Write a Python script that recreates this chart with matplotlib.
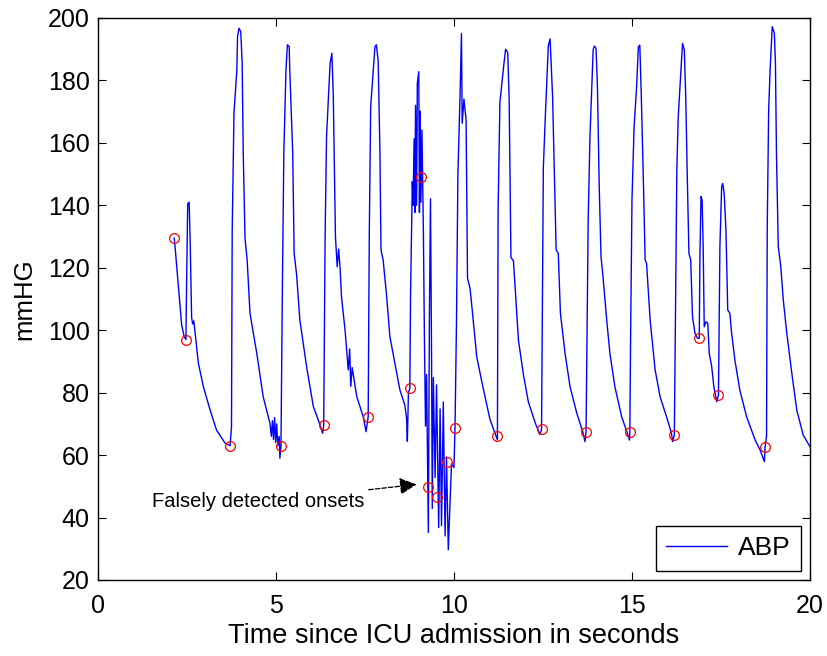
import numpy as np
import matplotlib
matplotlib.use('Agg')
import matplotlib.pyplot as plt

plt.rcParams['font.family'] = ['Liberation Sans', 'DejaVu Sans']

# ABP trace, vertices (seconds, mmHg)
t_abp = [
    2.14, 2.17, 2.26, 2.35, 2.42, 2.47, 2.49, 2.52, 2.56, 2.59, 2.63, 2.66, 2.69, 2.72,
    2.82, 2.96, 3.15, 3.33, 3.57, 3.71,
    3.75, 3.77, 3.82, 3.90, 3.92, 3.96, 4.01, 4.05, 4.08, 4.13, 4.15, 4.19, 4.27, 4.46,
    4.64, 4.83, 4.87, 4.90, 4.93, 4.96, 4.99, 5.02, 5.05, 5.09, 5.11, 5.14,
    5.18, 5.22, 5.28, 5.32, 5.37, 5.39, 5.47, 5.51, 5.58, 5.67, 5.86, 6.05, 6.19, 6.31, 6.34,
    6.38, 6.42, 6.52, 6.57, 6.61, 6.67, 6.72, 6.76, 6.80, 6.84, 6.94, 7.03, 7.07, 7.10,
    7.14, 7.27, 7.45, 7.53, 7.59,
    7.62, 7.66, 7.72, 7.78, 7.82, 7.87, 7.92, 7.95, 8.01, 8.11, 8.20, 8.34, 8.48, 8.62,
    8.67, 8.69, 8.72, 8.76,
    8.78, 8.83, 8.85, 8.88, 8.90, 8.92, 8.95, 8.97, 9.01, 9.03, 9.05, 9.07, 9.10, 9.14,
    9.17, 9.20, 9.23,
    9.28, 9.31, 9.34, 9.37, 9.39, 9.42, 9.47, 9.51, 9.57, 9.61, 9.65, 9.70, 9.75, 9.79,
    9.84, 9.89, 9.93, 10.00, 10.03,
    10.07, 10.11, 10.17, 10.21, 10.23, 10.28, 10.34, 10.38, 10.45, 10.50, 10.64, 10.82,
    11.01, 11.15, 11.22,
    11.24, 11.29, 11.40, 11.45, 11.51, 11.55, 11.60, 11.67, 11.72, 11.81, 11.95, 12.09,
    12.28, 12.41, 12.46,
    12.51, 12.57, 12.65, 12.70, 12.77, 12.84, 12.87, 12.93, 12.99, 13.12, 13.26, 13.45,
    13.63, 13.68, 13.71,
    13.77, 13.82, 13.87, 13.91, 13.94, 13.99, 14.03, 14.08, 14.13, 14.19, 14.29, 14.38,
    14.52, 14.71, 14.87, 14.93, 14.94,
    14.96, 15.00, 15.06, 15.13, 15.18, 15.22, 15.26, 15.32, 15.37, 15.41, 15.51, 15.65,
    15.79, 15.97, 16.11, 16.14, 16.19,
    16.22, 16.26, 16.30, 16.37, 16.42, 16.47, 16.51, 16.55, 16.60, 16.65, 16.70, 16.77,
    16.84, 16.89, 16.91, 16.94, 16.97, 17.00, 17.03, 17.08, 17.13, 17.17, 17.24, 17.30,
    17.38, 17.43, 17.47, 17.52, 17.55, 17.59, 17.64, 17.69, 17.75, 17.80, 17.89, 18.03,
    18.22, 18.46, 18.60, 18.72, 18.74,
    18.78, 18.80, 18.84, 18.88, 18.94, 19.00, 19.03, 19.06, 19.11, 19.18, 19.25, 19.35,
    19.49, 19.63, 19.81, 20.00,
]
abp = [
    129.5, 126, 114, 101.7, 98, 97, 116, 140.5, 141, 128, 104, 102, 103, 100,
    89.4, 81.9, 74.4, 68, 63.8, 63,
    69, 132, 169.5, 183.3, 194, 196.7, 195.6, 185.5, 156.7, 129.4, 127, 122.5, 105.4, 92.6,
    78.7, 70.2, 66, 71, 65, 72, 64, 70, 63, 66, 59, 63,
    114, 156.7, 183.3, 191.4, 190.8, 182.3, 156.7, 124.6, 117.7, 103.3, 88.3, 75.5, 71.2, 67, 69.6,
    130, 162, 185.5, 188.7, 174.8, 130, 120.3, 126, 120, 110.7, 100, 87.3, 94, 82,
    88, 78.7, 72.3, 67.5, 72.3,
    130, 171.6, 181.2, 190.8, 191.4, 186.5, 156.7, 125.7, 122.5, 110.7, 97.9, 89.4, 80.9, 76,
    71.5, 64.4, 80, 81.4,
    111.2, 147.6, 140, 161.3, 137.7, 172, 140, 179, 182.8, 137.7, 170.2, 141, 164.1, 132.1,
    96.9, 69.3, 85.8,
    35.2, 104.6, 142.1, 91.4, 42.9, 84.8, 52.8, 82.5, 36.8, 74.8, 37.4, 77.0, 34.1, 59.4,
    29.7, 45.1, 57.2, 56, 69.3,
    102.4, 149.8, 175.1, 195, 166.3, 174, 167.4, 116.7, 113.4, 107.9, 91.4, 81.4,
    71.5, 67.1, 64.9,
    138.8, 173, 185, 190, 188.9, 174, 123.3, 122.2, 113.4, 96.9, 85.8, 77,
    70.4, 66.6, 68.2,
    152, 169.6, 191.1, 193.3, 174.8, 139.6, 125.7, 124.6, 105.4, 92.6, 81.9, 73.4,
    67, 64.3, 67.5,
    135.3, 162, 177, 189.8, 191, 190.3, 178, 146, 123.6, 116.6, 103.3, 92.6,
    81.9, 72.3, 67, 64.8, 67.5,
    95.8, 141.7, 165.2, 178, 190.8, 191.3, 175.9, 148.1, 122.5, 121.4, 103.3, 87.3,
    78.7, 72.3, 67, 64.3, 66.4,
    103.3, 151.3, 168.4, 182.3, 191.9, 189.8, 174.8, 151.3, 124.6, 122.5, 104.3, 99,
    97.4, 97.4, 124.6, 142.8, 141.7, 126.8, 101.1, 102.7, 102.2, 92.6, 88.3, 81.9,
    77.1, 79.3, 126.8, 146, 147, 143.8, 132.1, 106.5, 105.4, 99, 90.5, 80.8,
    72.3, 64.8, 61.6, 57.9, 62.7,
    66, 133.2, 170.5, 183.3, 197.2, 195.1, 185.5, 155.6, 126.8, 120.4, 109.7, 99,
    86.2, 74.4, 66.4, 62.7,
]

# detected onsets (red circles)
t_onset = [2.14, 2.47, 3.71, 5.14, 6.34, 7.59, 8.76, 9.06, 9.28, 9.51,
           9.79, 10.03, 11.22, 12.46, 13.71, 14.94, 16.19, 16.89, 17.43, 18.74]
v_onset = [129.5, 97, 63, 63, 69.6, 72.3, 81.4, 149, 49.8, 46.7,
           57.8, 68.8, 66, 68.2, 67.5, 67.5, 66.4, 97.4, 79.3, 62.7]

fig = plt.figure(figsize=(8.27, 6.56), dpi=100)
ax = fig.add_axes([0.1185, 0.1159, 0.8609, 0.8567])

ax.plot(t_abp, abp, color='blue', lw=1.0, label='ABP')
ax.plot(t_onset, v_onset, 'o', mfc='none', mec='red', ms=7, mew=0.9)

ax.annotate('Falsely detected onsets', xy=(8.95, 50.6), xytext=(1.52, 45),
            fontsize=14.5, va='center', ha='left',
            arrowprops=dict(arrowstyle='-|>', linestyle='--', color='black',
                            lw=0.9, mutation_scale=26, shrinkA=1, shrinkB=0))

ax.set_xlim(0, 20)
ax.set_ylim(20, 200)
ax.set_xticks(np.arange(0, 21, 5))
ax.set_yticks(np.arange(20, 201, 20))
ax.tick_params(direction='in', length=6, top=True, right=True, labelsize=18, pad=10)
ax.tick_params(axis='y', pad=6)
ax.set_xlabel('Time since ICU admission in seconds', fontsize=19.5, labelpad=4)
ax.set_ylabel('mmHG', fontsize=18.5, labelpad=8)
for s in ax.spines.values():
    s.set_linewidth(1.0)

leg = ax.legend(loc='lower right', fontsize=19, fancybox=False, framealpha=1,
                edgecolor='black', handlelength=2.3, handletextpad=0.4,
                borderaxespad=0.35)
leg.get_frame().set_linewidth(1.0)

fig.savefig('out.png', dpi=100)
